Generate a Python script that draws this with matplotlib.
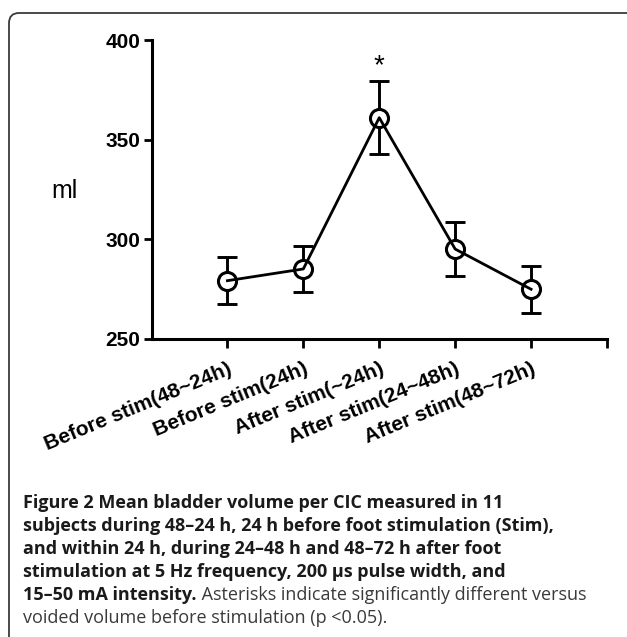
import matplotlib
matplotlib.use('Agg')
import matplotlib.pyplot as plt
from matplotlib.patches import FancyBboxPatch
import numpy as np

W, H = 627, 637

categories = ['Before stim(48~24h)', 'Before stim(24h)', 'After stim(~24h)',
              'After stim(24~48h)', 'After stim(48~72h)']
means = [279.3, 285.2, 361.2, 295.2, 275.0]
sems = [11.7, 11.6, 18.3, 13.4, 11.7]
signif = [False, False, True, False, False]

caption_bold = ['Figure 2 Mean bladder volume per CIC measured in 11',
                'subjects during 48\u201324 h, 24 h before foot stimulation (Stim),',
                'and within 24 h, during 24\u201348 h and 48\u201372 h after foot',
                'stimulation at 5 Hz frequency, 200 \u00b5s pulse width, and',
                '15\u201350 mA intensity.']
caption_plain = [' Asterisks indicate significantly different versus',
                 'voided volume before stimulation (p <0.05).']

fig = plt.figure(figsize=(W / 100, H / 100), dpi=100)

# rounded frame around the whole figure panel (cut at right / bottom)
frame = FancyBboxPatch((9 / W, 1 - 660 / H), 640 / W, (660 - 13) / H,
                       boxstyle='round,pad=0,rounding_size=0.016',
                       transform=fig.transFigure, fill=False,
                       edgecolor='#3a3a3a', linewidth=1.3)
fig.patches.append(frame)

ax = fig.add_axes([151.5 / W, 1 - 339 / H, (607 - 151.5) / W, (339 - 40.5) / H])
x = np.arange(1, len(means) + 1)

ax.errorbar(x, means, yerr=sems, fmt='none', ecolor='black', elinewidth=2.1,
            capsize=7.5, capthick=2.1, zorder=2)
ax.plot(x, means, 'o', ms=13, mfc='white', mec='black', mew=2.2, zorder=3)
ax.plot(x, means, '-', color='black', lw=2.0, zorder=4)

for xi, m, s, sg in zip(x, means, sems, signif):
    if sg:
        ax.annotate('*', xy=(xi, m + s), xytext=(0, 5.5), textcoords='offset points',
                    ha='center', va='baseline', fontsize=20,
                    family='Liberation Sans', annotation_clip=False)

ax.set_xlim(0, 6)
ax.set_ylim(250, 400)
ax.set_yticks([250, 300, 350, 400])
ax.set_xticks(list(x) + [6])
ax.set_xticklabels(categories + [''])
for sp in ['top', 'right']:
    ax.spines[sp].set_visible(False)
for sp in ['left', 'bottom']:
    ax.spines[sp].set_linewidth(2.2)
ax.tick_params(axis='y', length=6, width=2, pad=2)
ax.tick_params(axis='x', length=6.5, width=2, pad=8)
for lab in ax.get_yticklabels():
    lab.set_fontfamily('Liberation Sans')
    lab.set_fontweight('bold')
    lab.set_fontsize(15)
for lab in ax.get_xticklabels():
    lab.set_fontfamily('Liberation Sans')
    lab.set_fontweight('bold')
    lab.set_fontsize(15)
    lab.set_rotation(22.5)
    lab.set_ha('right')
    lab.set_rotation_mode('anchor')

fig.text(64 / W, 1 - 191 / H, 'ml', ha='center', va='center', fontsize=18,
         family='Liberation Sans')

# caption
cap_font = 'Open Sans'
cap_size = 13
x0 = 23 / W
base0 = 508.3
step = 22.9
for i, line in enumerate(caption_bold):
    fig.text(x0, 1 - (base0 + i * step) / H, line, ha='left', va='baseline',
             fontsize=cap_size, fontweight='bold', family=cap_font, color='#1a1a1a')

fig.canvas.draw()
r = fig.canvas.get_renderer()
last = fig.texts[-1]
bb = last.get_window_extent(renderer=r)
fig.text(bb.x1 / W, 1 - (base0 + 4 * step) / H, caption_plain[0], ha='left',
         va='baseline', fontsize=cap_size, family=cap_font, color='#3a3a3a')
fig.text(x0, 1 - (base0 + 5 * step) / H, caption_plain[1], ha='left',
         va='baseline', fontsize=cap_size, family=cap_font, color='#3a3a3a')

fig.savefig('out.png', dpi=100)
